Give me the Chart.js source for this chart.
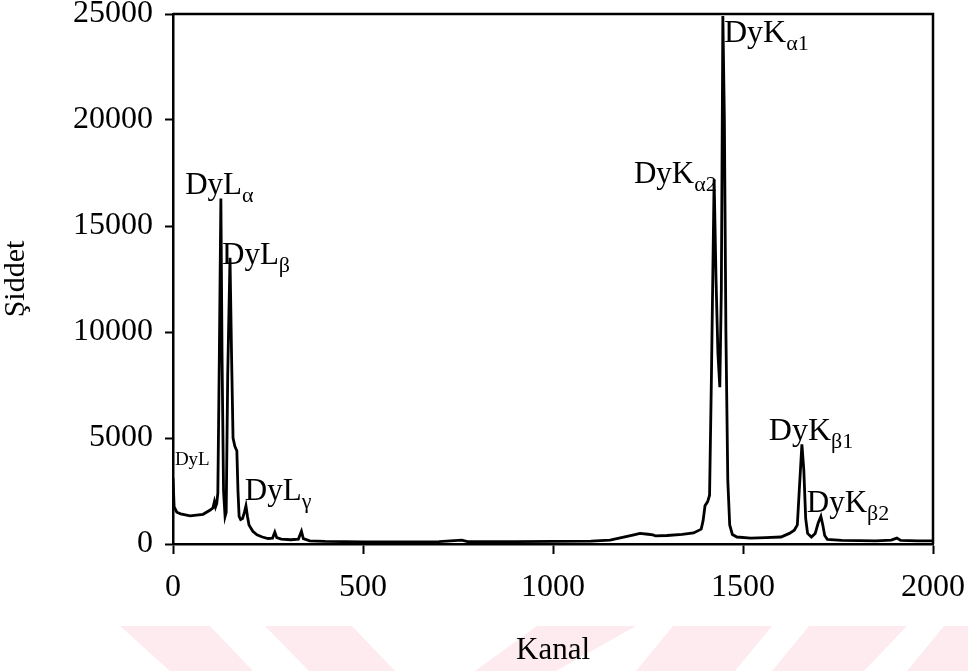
<!DOCTYPE html>
<html>
<head>
<meta charset="utf-8">
<script src="https://cdn.jsdelivr.net/npm/chart.js@4"></script>
<style>
  html, body { margin: 0; padding: 0; background: #fff; }
  canvas { display: block; }
</style>
</head>
<body>
<canvas id="spectrum" width="968" height="671"></canvas>
<script>
// Dy X-ray spectrum: channel vs. counts
const channels = [
  0, 3, 10, 20, 45, 79, 98, 105, 109, 112, 115, 118, 122, 126, 129, 133, 137,
  140, 144, 150, 154, 158, 163, 168, 171, 174, 178, 183, 188, 192, 196, 200,
  210, 221, 235, 250, 262, 268, 273, 285, 310, 330, 338, 343, 360, 400, 500,
  600, 700, 760, 775, 900, 1000, 1100, 1150, 1180, 1210, 1229, 1250, 1263,
  1270, 1300, 1340, 1370, 1390, 1395, 1400, 1407, 1412, 1417, 1424, 1429,
  1434, 1439, 1443, 1447, 1451, 1455, 1460, 1465, 1472, 1484, 1520, 1560,
  1600, 1622, 1635, 1643, 1648, 1655, 1660, 1665, 1670, 1680, 1690, 1698,
  1705, 1710, 1715, 1722, 1760, 1850, 1890, 1905, 1915, 1960, 2000
];
const counts = [
  3100, 1750, 1500, 1420, 1330, 1400, 1600, 1700, 2000, 1750, 1900, 2400, 9000, 16300, 9000, 2500, 1300,
  1500, 8000, 13500, 9000, 5000, 4600, 4400, 2500, 1300, 1150, 1200, 1500, 1800, 1300, 900,
  600, 430, 330, 260, 280, 560, 300, 230, 200, 230, 600, 250, 150, 120, 100,
  100, 110, 180, 110, 110, 120, 140, 180, 300, 420, 500, 460, 430,
  380, 400, 450, 520, 700, 1100, 1800, 2000, 2300, 8000, 17200, 12500,
  9000, 7400, 12000, 24900, 20000, 10000, 3000, 900, 450, 330, 280, 300,
  330, 500, 650, 900, 2500, 4700, 3500, 1200, 500, 330, 500, 1000,
  1300, 900, 400, 220, 170, 150, 180, 280, 170, 150, 150
];

const xTicks = [0, 500, 1000, 1500, 2000];
const yTicks = [0, 5000, 10000, 15000, 20000, 25000];

// peak labels: text, subscript, anchor (channel, counts) of the baseline start
const peakLabels = [
  { text: 'DyL', sub: '',   at: [5, 3720],     size: 19 },
  { text: 'DyL', sub: 'α',  at: [32, 16530],   size: 31 },
  { text: 'DyL', sub: 'β',  at: [129, 13190],  size: 31 },
  { text: 'DyL', sub: 'γ',  at: [189, 2070],   size: 31 },
  { text: 'DyK', sub: 'α2', at: [1213, 17050], size: 31 },
  { text: 'DyK', sub: 'α1', at: [1450, 23690], size: 32 },
  { text: 'DyK', sub: 'β1', at: [1568, 4900],  size: 32 },
  { text: 'DyK', sub: 'β2', at: [1668, 1510],  size: 31 }
];

const serif = '"Liberation Serif", "Times New Roman", serif';

const points = channels.map((c, i) => ({ x: c, y: counts[i] }));

// faint watermark bands along the bottom edge
const watermark = {
  id: 'watermark',
  beforeDraw(chart) {
    const ctx = chart.ctx;
    const bands = [
      [120, 210, 253, 170], [265, 352, 395, 309],
      [537, 636, 556, 475], [673, 772, 735, 636],
      [809, 907, 864, 772], [944, 1040, 968, 907]
    ];
    ctx.save();
    ctx.fillStyle = '#fdebef';
    bands.forEach(([a, b, c, d]) => {
      ctx.beginPath();
      ctx.moveTo(a, 626);
      ctx.lineTo(b, 626);
      ctx.lineTo(c, 671);
      ctx.lineTo(d, 671);
      ctx.closePath();
      ctx.fill();
    });
    ctx.restore();
  }
};

// closes the plot box and writes the peak names
const frameAndLabels = {
  id: 'frameAndLabels',
  afterDraw(chart) {
    const { ctx, chartArea: a, scales: { x, y } } = chart;
    ctx.save();
    ctx.strokeStyle = '#000';
    ctx.lineWidth = 2.5;
    ctx.beginPath();
    ctx.moveTo(a.left, a.top);
    ctx.lineTo(a.right, a.top);
    ctx.lineTo(a.right, a.bottom);
    ctx.stroke();

    ctx.fillStyle = '#000';
    ctx.textBaseline = 'alphabetic';
    ctx.textAlign = 'left';
    peakLabels.forEach(l => {
      const px = x.getPixelForValue(l.at[0]);
      const py = y.getPixelForValue(l.at[1]);
      ctx.font = l.size + 'px ' + serif;
      ctx.fillText(l.text, px, py);
      if (l.sub) {
        const w = ctx.measureText(l.text).width;
        ctx.font = Math.round(l.size * 0.7) + 'px ' + serif;
        ctx.fillText(l.sub, px + w, py + 8);
      }
    });
    ctx.restore();
  }
};

new Chart(document.getElementById('spectrum'), {
  type: 'scatter',
  data: {
    datasets: [{
      data: points,
      showLine: true,
      borderColor: '#000',
      borderWidth: 2.8,
      pointRadius: 0,
      tension: 0
    }]
  },
  options: {
    responsive: false,
    animation: false,
    devicePixelRatio: 1,
    layout: { padding: { top: 14, right: 35, left: 0, bottom: 0 } },
    plugins: {
      legend: { display: false },
      tooltip: { enabled: false }
    },
    scales: {
      x: {
        type: 'linear',
        min: 0,
        max: 2000,
        afterBuildTicks: s => { s.ticks = xTicks.map(v => ({ value: v })); },
        afterFit: s => { s.height = 127; s.paddingLeft = 0; s.paddingRight = 0; },
        border: { display: true, color: '#000', width: 2.5 },
        grid: { drawOnChartArea: false, drawTicks: true, tickLength: 10, tickColor: '#000', tickWidth: 2 },
        ticks: {
          color: '#000',
          font: { family: serif, size: 32 },
          padding: 14,
          maxRotation: 0,
          callback: v => String(v)
        },
        title: {
          display: true,
          text: 'Kanal',
          color: '#000',
          font: { family: serif, size: 31 },
          padding: { top: 0, bottom: 2 }
        }
      },
      y: {
        type: 'linear',
        min: 0,
        max: 25000,
        afterBuildTicks: s => { s.ticks = yTicks.map(v => ({ value: v })); },
        afterFit: s => { s.width = 173; s.paddingTop = 0; s.paddingBottom = 0; },
        border: { display: true, color: '#000', width: 2.5 },
        grid: { drawOnChartArea: false, drawTicks: true, tickLength: 8, tickColor: '#000', tickWidth: 2 },
        ticks: {
          color: '#000',
          font: { family: serif, size: 32 },
          padding: 12,
          callback: v => String(v)
        },
        title: {
          display: true,
          text: 'Şiddet',
          color: '#000',
          font: { family: serif, size: 30, lineHeight: 1.1 },
          padding: 0
        }
      }
    }
  },
  plugins: [watermark, frameAndLabels]
});
</script>
</body>
</html>
